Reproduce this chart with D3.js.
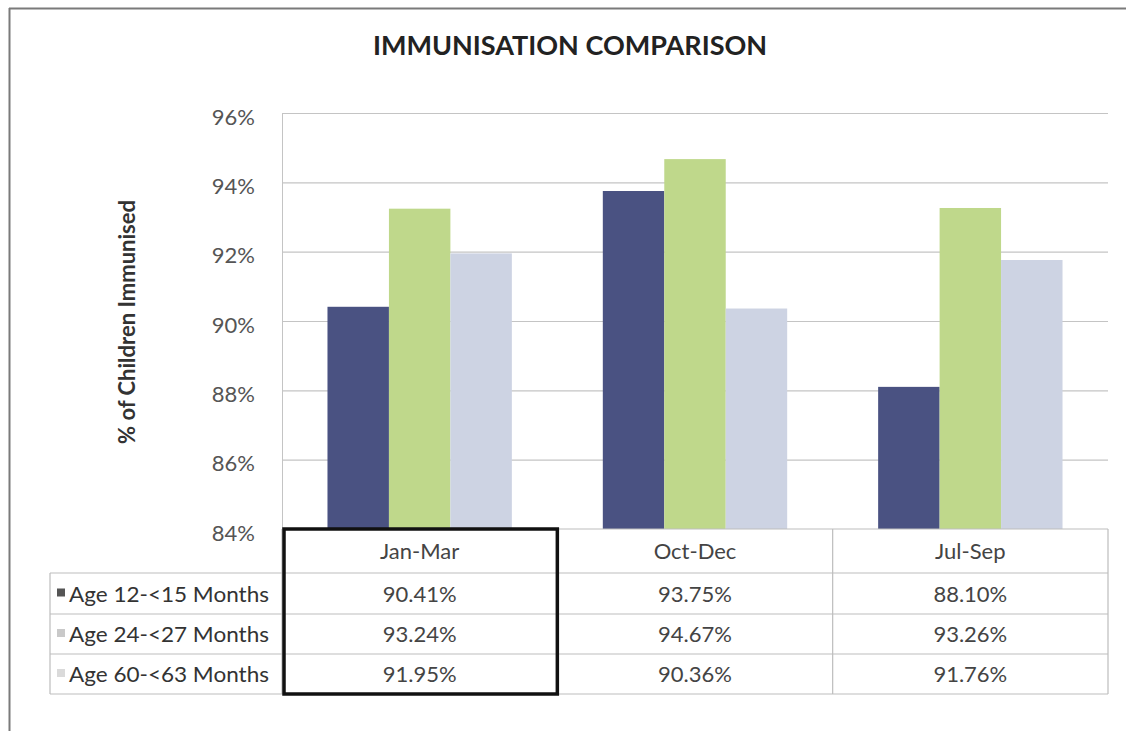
<!DOCTYPE html>
<html><head><meta charset="utf-8">
<script src="https://cdn.jsdelivr.net/npm/d3@7"></script>
<style>body{margin:0;background:#fff;} svg{display:block;}</style>
</head><body>
<svg id="c" width="1126" height="731"></svg>
<script>
const categories = ["Jan-Mar", "Oct-Dec", "Jul-Sep"];
const seriesNames = ["Age 12-<15 Months", "Age 24-<27 Months", "Age 60-<63 Months"];
const age12 = [90.41, 93.75, 88.10];
const age24 = [93.24, 94.67, 93.26];
const age60 = [91.95, 90.36, 91.76];
const yTicks = [84, 86, 88, 90, 92, 94, 96];
const colors = ["#4a5282", "#bfd88b", "#cdd3e3"];
const legendColors = ["#555555", "#c9c9c9", "#dadada"];
const seriesValues = [age12, age24, age60];

const svg = d3.select("#c");
const font = "Lato, 'Open Sans', sans-serif";
const L = 282, R = 1108, T = 113, B = 529;
const fs = 22;

const x = d3.scaleBand().domain(categories).range([L, R]).padding(0);
const xs = d3.scaleBand().domain(d3.range(3)).range([0, x.bandwidth()]).paddingInner(0).paddingOuter(0.74);
const y = d3.scaleLinear().domain([84, 96]).range([B, T]);

// outer frame
svg.append("line").attr("x1", 9).attr("x2", 1126).attr("y1", 8.5).attr("y2", 8.5).attr("stroke", "#7a7a7a").attr("stroke-width", 2);
svg.append("line").attr("x1", 9.5).attr("x2", 9.5).attr("y1", 8).attr("y2", 731).attr("stroke", "#7a7a7a").attr("stroke-width", 2);

// title
svg.append("text").attr("x", 570).attr("y", 55).attr("text-anchor", "middle")
  .attr("font-family", font).attr("font-weight", "bold").attr("font-size", 27).attr("fill", "#222")
  .text("IMMUNISATION COMPARISON");

// gridlines
svg.append("g").selectAll("line").data(yTicks.filter(d => d > 84)).join("line")
  .attr("x1", L).attr("x2", R).attr("y1", d => y(d) + 0.5).attr("y2", d => y(d) + 0.5)
  .attr("stroke", "#c4c4c4").attr("stroke-width", 1.2);

// y axis
const yAxis = d3.axisLeft(y).tickValues(yTicks).tickSize(0).tickPadding(27).tickFormat(d => d + "%");
const ga = svg.append("g").attr("transform", `translate(${L},0)`).call(yAxis);
ga.select(".domain").attr("stroke", "#c4c4c4");
ga.selectAll("text").attr("font-family", font).attr("font-size", fs).attr("fill", "#555").attr("dy", "0.5em");

// y title
svg.append("text").attr("transform", "translate(135,322) rotate(-90)").attr("text-anchor", "middle")
  .attr("font-family", font).attr("font-weight", "bold").attr("font-size", 22).attr("fill", "#333")
  .text("% of Children Immunised");

// bars
const gb = svg.append("g");
categories.forEach((c, ci) => {
  seriesValues.forEach((vals, si) => {
    gb.append("rect")
      .attr("x", x(c) + xs(si)).attr("width", xs.bandwidth())
      .attr("y", y(vals[ci])).attr("height", B - y(vals[ci]))
      .attr("fill", colors[si]);
  });
});

// data table
const rowY = [B, 573, 614, 654, 694];
const tableLeft = 50;
const tg = svg.append("g").attr("stroke", "#bdbdbd").attr("stroke-width", 1.2);
tg.append("line").attr("x1", L).attr("x2", R).attr("y1", rowY[0]).attr("y2", rowY[0]);
for (let i = 1; i < rowY.length; i++) {
  tg.append("line").attr("x1", tableLeft).attr("x2", R).attr("y1", rowY[i]).attr("y2", rowY[i]);
}
tg.append("line").attr("x1", tableLeft).attr("x2", tableLeft).attr("y1", rowY[1]).attr("y2", rowY[4]);
categories.forEach(c => {
  tg.append("line").attr("x1", x(c)).attr("x2", x(c)).attr("y1", rowY[0]).attr("y2", rowY[4]);
});
tg.append("line").attr("x1", R).attr("x2", R).attr("y1", rowY[0]).attr("y2", rowY[4]);

// header texts
svg.append("g").selectAll("text").data(categories).join("text")
  .attr("x", d => x(d) + x.bandwidth() / 2).attr("y", (rowY[0] + rowY[1]) / 2 + 8)
  .attr("text-anchor", "middle").attr("font-family", font).attr("font-size", fs).attr("fill", "#444")
  .text(d => d);

// rows
seriesNames.forEach((s, si) => {
  const cy = (rowY[si + 1] + rowY[si + 2]) / 2;
  svg.append("rect").attr("x", 57).attr("y", cy - 5).attr("width", 8).attr("height", 8).attr("fill", legendColors[si]);
  svg.append("text").attr("x", 69).attr("y", cy + 8).attr("font-family", font).attr("font-size", fs)
    .attr("fill", "#333").attr("textLength", 200).attr("lengthAdjust", "spacingAndGlyphs").text(s);
  categories.forEach((c, ci) => {
    svg.append("text").attr("x", x(c) + x.bandwidth() / 2).attr("y", cy + 8).attr("text-anchor", "middle")
      .attr("font-family", font).attr("font-size", fs).attr("fill", "#444")
      .text(seriesValues[si][ci].toFixed(2) + "%");
  });
});

// highlight box
svg.append("rect").attr("x", x(categories[0]) + 2).attr("y", rowY[0]).attr("width", x.bandwidth() - 2)
  .attr("height", rowY[4] - rowY[0]).attr("fill", "none").attr("stroke", "#111").attr("stroke-width", 3.5);
</script>
</body></html>
